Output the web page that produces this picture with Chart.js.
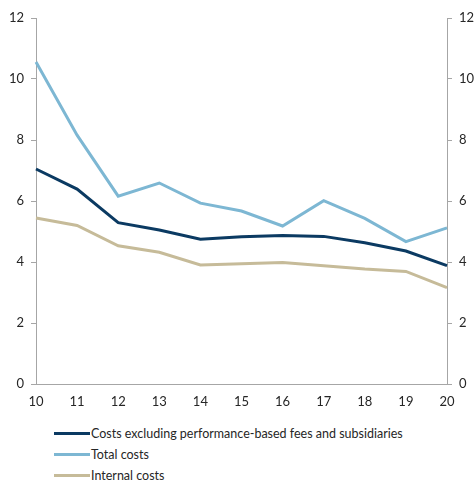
<!DOCTYPE html>
<html>
<head>
<meta charset="utf-8">
<script src="https://cdn.jsdelivr.net/npm/chart.js@4"></script>
<style>
  body { margin: 0; background: #fff; font-family: Lato, sans-serif; }
  #wrap { position: relative; width: 474px; height: 481px; }
  #box { position: absolute; left: 0; top: 0; width: 474px; height: 412px; }
  #legend { position: absolute; left: 54px; top: 423px; font-size: 12.5px; color: #262626; }
  .item { height: 21px; line-height: 21px; display: flex; align-items: center; }
  .swatch { width: 36px; height: 3px; margin-right: 1px; }
</style>
</head>
<body>
<div id="wrap">
  <div id="box"><canvas id="myChart"></canvas></div>
  <div id="legend"></div>
</div>
<script>
const years = ['10', '11', '12', '13', '14', '15', '16', '17', '18', '19', '20'];
const costsExcl = [7.05, 6.39, 5.29, 5.05, 4.75, 4.83, 4.87, 4.84, 4.63, 4.36, 3.88];
const totalCosts = [10.56, 8.16, 6.16, 6.59, 5.93, 5.67, 5.18, 6.01, 5.43, 4.67, 5.12];
const internalCosts = [5.44, 5.20, 4.53, 4.32, 3.90, 3.94, 3.98, 3.88, 3.77, 3.69, 3.16];
const yTicks = [0, 2, 4, 6, 8, 10, 12];

document.addEventListener('DOMContentLoaded', () => {
  const ctx = document.getElementById('myChart');
  const axisGrey = '#a6a6a6';
  const tickFont = { family: 'Lato', size: 13 };

  const datasets = [
    { label: 'Costs excluding performance-based fees and subsidiaries', data: costsExcl, borderColor: '#0b3a62' },
    { label: 'Total costs', data: totalCosts, borderColor: '#7db7d3' },
    { label: 'Internal costs', data: internalCosts, borderColor: '#c6bb99' },
  ].map((d) => ({ ...d, borderWidth: 3, pointRadius: 0, tension: 0, fill: false, yAxisID: 'y' }));

  const yAxis = (position) => ({
    position: position,
    min: 0,
    max: 12,
    afterBuildTicks: (axis) => { axis.ticks = yTicks.map((v) => ({ value: v })); },
    afterFit: (axis) => { axis.width = position === 'left' ? 36 : 27; },
    grid: { drawOnChartArea: false, tickLength: 5, color: axisGrey },
    border: { color: axisGrey },
    ticks: { color: '#262626', font: tickFont, padding: 7 },
  });

  new Chart(ctx, {
    type: 'line',
    data: { labels: years, datasets: datasets },
    options: {
      responsive: true,
      maintainAspectRatio: false,
      animation: false,
      layout: { padding: { top: 18, left: 0, right: 0, bottom: 0 } },
      plugins: { legend: { display: false }, tooltip: { enabled: false } },
      scales: {
        x: {
          offset: false,
          afterFit: (axis) => { axis.height = 28; },
          grid: { drawOnChartArea: false, drawTicks: false, color: axisGrey },
          border: { color: axisGrey },
          ticks: { color: '#262626', font: tickFont, padding: 10, maxRotation: 0 },
        },
        y: yAxis('left'),
        y1: yAxis('right'),
      },
    },
  });

  const legend = document.getElementById('legend');
  datasets.forEach((d) => {
    const row = document.createElement('div');
    row.className = 'item';
    row.innerHTML = `<span class="swatch" style="background:${d.borderColor}"></span><span>${d.label}</span>`;
    legend.appendChild(row);
  });
});
</script>
</body>
</html>
